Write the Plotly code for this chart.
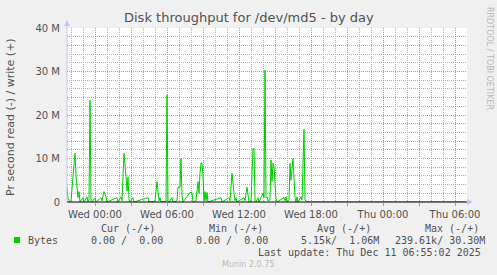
import pandas as pd
import plotly.graph_objects as go

# ---------------- data ----------------
start_time = "2025-12-09 21:40"
end_time = "2025-12-11 07:00"

# minutes after start_time (5-minute samples)
minutes_from_start = [
    0, 5, 15, 20, 30, 40, 45, 50, 55, 60, 65, 80, 85, 100, 105, 110, 115, 120, 125,
    140, 145, 170, 175, 185, 195, 200, 250, 255, 270, 275, 285, 295, 300, 305, 310,
    315, 330, 335, 405, 410, 440, 450, 455, 460, 465, 470, 495, 500, 505, 510, 525,
    530, 550, 555, 565, 570, 575, 580, 615, 625, 630, 645, 655, 660, 665, 670, 675,
    680, 685, 690, 695, 700, 705, 770, 775, 810, 815, 825, 835, 840, 845, 850, 885,
    890, 900, 905, 910, 920, 930, 935, 940, 945, 955, 960, 980, 985, 990, 995, 1000,
    1005, 1015, 1020, 1025, 1030, 1035, 1040, 1045, 1050, 1085, 1090, 1095, 1100,
    1110, 1115, 1120, 1130, 1135, 1140, 1145, 1150, 1155, 1170, 1175, 1185, 1190,
    1195, 1205, 1995,
]
# write bytes per second, in millions
write_mbytes = [
    3.5, 0.8, 0.0, 0.2, 5.8, 11.2, 6.0, 2.8, 1.0, 2.4, 0.0, 1.0, 0.0, 1.2, 0.0, 0.5, 23.4, 0.3, 0.0,
    1.0, 0.0, 1.0, 0.3, 2.4, 1.2, 0.0, 1.0, 0.0, 1.2, 0.3, 11.2, 5.8, 2.5, 5.8, 0.5,
    0.0, 1.0, 0.0, 1.0, 0.0, 0.2, 4.7, 2.0, 0.3, 1.0, 0.0, 0.2, 24.6, 0.3, 0.0, 1.0,
    0.0, 0.3, 3.4, 3.4, 10.0, 1.5, 0.0, 2.2, 2.2, 0.0, 0.3, 4.7, 2.0, 6.6, 9.0, 8.9,
    5.8, 0.3, 2.4, 0.3, 2.2, 0.0, 1.0, 0.0, 1.0, 0.3, 6.6, 2.0, 0.3, 1.0, 0.0, 1.0,
    0.3, 3.4, 0.8, 0.0, 0.2, 12.3, 12.3, 0.3, 0.0, 1.0, 0.0, 2.0, 1.0, 30.3, 1.0, 1.2,
    0.3, 0.5, 9.7, 4.7, 8.9, 8.1, 4.3, 0.8, 0.0, 1.0, 0.3, 1.2, 0.0,
    0.5, 8.9, 5.0, 10.0, 5.0, 1.0, 0.0, 1.2, 0.0, 1.2, 0.4, 16.7, 0.5,
    0.2, 0.0, 0.0,
]

y_tick_values = [0, 10e6, 20e6, 30e6, 40e6]
y_tick_labels = ["0", "10 M", "20 M", "30 M", "40 M"]

x_tick_times = pd.date_range("2025-12-10 00:00", "2025-12-11 06:00", freq="3h")
x_tick_labels = ["Wed 00:00", "", "Wed 06:00", "", "Wed 12:00", "", "Wed 18:00", "",
                 "Thu 00:00", "", "Thu 06:00"]

legend_headers = ["Cur (-/+)", "Min (-/+)", "Avg (-/+)", "Max (-/+)"]
legend_values = ["0.00 /  0.00", "0.00 /  0.00", "5.15k/  1.06M", "239.61k/ 30.30M"]
series_name = "Bytes"
last_update = "Last update: Thu Dec 11 06:55:02 2025"
title_text = "Disk throughput for /dev/md5 - by day"
y_title = "Pr second read (-) / write (+)"

# ---------------- figure ----------------
t0 = pd.Timestamp(start_time)
times = [t0 + pd.Timedelta(minutes=m) for m in minutes_from_start]
values = [v * 1e6 for v in write_mbytes]

W, H = 497, 275
L, R, T, B = 67, 467, 28, 202


def px(x):
    return (x - L) / (R - L)


def py(y):
    return (B - y) / (B - T)


GREEN = "#00CC00"
TXT = "#505050"
LAV = "#C4C4F4"
MAJOR = "#E68080"
MINOR = "#B0B0B0"

fig = go.Figure()
fig.add_trace(go.Scatter(x=times, y=values, mode="lines",
                         line=dict(color=GREEN, width=1), hoverinfo="skip",
                         showlegend=False))

fig.update_layout(
    width=W, height=H, autosize=False,
    margin=dict(l=L, r=W - R, t=T, b=H - B, pad=0),
    paper_bgcolor="#F0F0F0", plot_bgcolor="#FFFFFF",
    font=dict(family="DejaVu Sans", size=10, color=TXT),
    showlegend=False,
)
fig.update_xaxes(
    type="date", range=[t0, pd.Timestamp(end_time)],
    tickmode="array", tickvals=list(x_tick_times), ticktext=x_tick_labels,
    showgrid=True, gridcolor=MAJOR, griddash="1px,1px", gridwidth=1,
    ticks="outside", ticklen=3, tickcolor="#F08080", tickfont=dict(size=10, color=TXT),
    minor=dict(dtick=3600000, tick0="2025-12-09 22:00", showgrid=True,
               gridcolor=MINOR, griddash="1px,1px", gridwidth=1),
    showline=False, zeroline=False, fixedrange=True,
)
fig.update_yaxes(
    range=[0, 40e6], tickmode="array", tickvals=y_tick_values, ticktext=y_tick_labels,
    showgrid=True, gridcolor=MAJOR, griddash="1px,1px", gridwidth=1,
    ticks="", ticklabelstandoff=6, tickfont=dict(size=10, color=TXT),
    minor=dict(dtick=2e6, showgrid=True, gridcolor=MINOR,
               griddash="1px,1px", gridwidth=1),
    showline=False, zeroline=False, fixedrange=True,
)

shapes = [
    # left axis line + arrow
    dict(type="line", xref="paper", yref="paper", x0=px(67), x1=px(67), y0=py(202), y1=py(24),
         line=dict(color=LAV, width=1), layer="above"),
    dict(type="path", xref="paper", yref="paper",
         path=f"M {px(64)} {py(26)} L {px(70)} {py(26)} L {px(67)} {py(20)} Z",
         fillcolor=LAV, line=dict(width=0), layer="above"),
    # zero line + right arrow
    dict(type="line", xref="paper", yref="paper", x0=px(67), x1=px(467), y0=0, y1=0,
         line=dict(color="#000000", width=1), layer="above"),
    dict(type="path", xref="paper", yref="paper",
         path=f"M {px(467)} {py(199)} L {px(467)} {py(205)} L {px(473)} {py(202)} Z",
         fillcolor=LAV, line=dict(width=0), layer="above"),
    # legend colour box
    dict(type="rect", xref="paper", yref="paper", x0=px(14), x1=px(20), y0=py(243), y1=py(237),
         fillcolor=GREEN, line=dict(width=0), layer="above"),
]
fig.update_layout(shapes=shapes)

ann = []


def add_text(text, x, y, xanchor="left", size=10, family="DejaVu Sans Mono", color=TXT,
             angle=0):
    ann.append(dict(text=text, x=px(x), y=py(y), xref="paper", yref="paper",
                    xanchor=xanchor, yanchor="middle", showarrow=False, textangle=angle,
                    font=dict(family=family, size=size, color=color)))


add_text(title_text, 248.5, 18, xanchor="center", size=13, family="DejaVu Sans")
add_text(y_title, 10, 117, xanchor="center", size=11, family="DejaVu Sans", angle=-90)
add_text("RRDTOOL / TOBI OETIKER", 490, 58, xanchor="center", size=8,
         family="DejaVu Sans", color="#B8B8B8", angle=90)

header_x = [99, 207, 315, 423]
for h, x in zip(legend_headers, header_x):
    add_text(h, x, 228)
add_text(series_name, 26, 240)
value_x = [89, 194, 299, 393]
for v, x in zip(legend_values, value_x):
    add_text(v.replace(" ", "&nbsp;"), x, 240)
add_text(last_update, 483, 252, xanchor="right")
add_text("Munin 2.0.75", 248, 264, xanchor="center", size=8, family="DejaVu Sans",
         color="#BBBBBB")

fig.update_layout(annotations=ann)

fig.write_html("out.html", config={"displayModeBar": False, "staticPlot": True})
